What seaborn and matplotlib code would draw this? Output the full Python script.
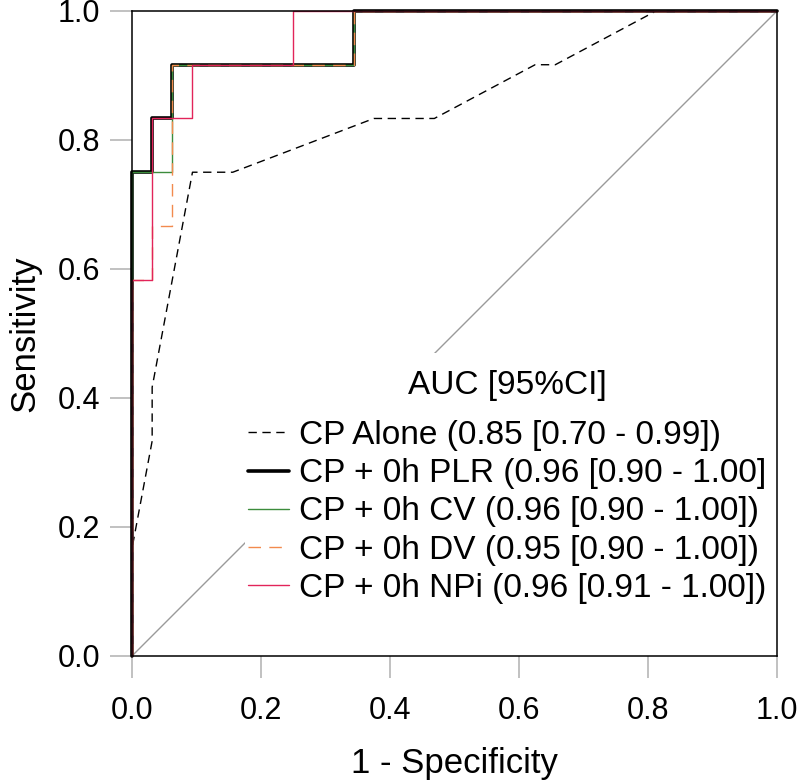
import matplotlib
matplotlib.use("Agg")
import matplotlib.pyplot as plt
from matplotlib.patches import Rectangle
import numpy as np
import pandas as pd
import seaborn as sns

# ROC curves (x = 1 - specificity, y = sensitivity)
cp_alone_fpr = [0, 0, 1/32, 1/32, 3/32, 5/32, 12/32, 15/32, 20/32, 21/32, 26/32, 1]
cp_alone_tpr = [0, 2/12, 4/12, 5/12, 9/12, 9/12, 10/12, 10/12, 11/12, 11/12, 1, 1]

plr_fpr = [0, 0, 1/32, 1/32, 2/32, 2/32, 11/32, 11/32, 1]
plr_tpr = [0, 9/12, 9/12, 10/12, 10/12, 11/12, 11/12, 1, 1]

cv_fpr = [0, 0, 2/32, 2/32, 11/32, 11/32, 1]
cv_tpr = [0, 9/12, 9/12, 11/12, 11/12, 1, 1]

dv_fpr = [0, 0, 1/32, 1/32, 2/32, 2/32, 11/32, 11/32, 1]
dv_tpr = [0, 7/12, 7/12, 8/12, 8/12, 11/12, 11/12, 1, 1]

npi_fpr = [0, 0, 1/32, 1/32, 3/32, 3/32, 8/32, 8/32, 1]
npi_tpr = [0, 7/12, 7/12, 10/12, 10/12, 11/12, 11/12, 1, 1]

labels = ["CP Alone (0.85 [0.70 - 0.99])",
          "CP + 0h PLR (0.96 [0.90 - 1.00]",
          "CP + 0h CV (0.96 [0.90 - 1.00])",
          "CP + 0h DV (0.95 [0.90 - 1.00])",
          "CP + 0h NPi (0.96 [0.91 - 1.00])"]
ticks = [0.0, 0.2, 0.4, 0.6, 0.8, 1.0]

sns.set_style("white")
plt.rcParams['font.family'] = ['Liberation Sans', 'DejaVu Sans']
plt.rcParams['text.color'] = 'black'
plt.rcParams['axes.labelcolor'] = 'black'

fig, ax = plt.subplots(figsize=(8, 7.84), dpi=100)
fig.subplots_adjust(left=0.165, right=0.97125, bottom=0.1633, top=0.986)

# chance line
ax.axline((0, 0), slope=1, color="#9a9a9a", lw=1.0, zorder=1)
# white area behind the legend (hides the chance line there)
ax.add_patch(Rectangle((0.175, 0.05), 0.82, 0.42, transform=ax.transAxes,
                       facecolor="white", edgecolor="none", zorder=1.5))

curves = [
    (cp_alone_fpr, cp_alone_tpr, dict(color="black", lw=1.0, linestyle=(0, (6, 4)))),
    (plr_fpr, plr_tpr, dict(color="black", lw=2.6, linestyle="-")),
    (cv_fpr, cv_tpr, dict(color="#3c8c3c", lw=1.0, linestyle="-")),
    (dv_fpr, dv_tpr, dict(color="#f28a4e", lw=1.0, linestyle=(0, (9, 6)))),
    (npi_fpr, npi_tpr, dict(color="#e2245a", lw=1.0, linestyle="-")),
]
for (fpr, tpr, style), lab in zip(curves, labels):
    df = pd.DataFrame({"fpr": fpr, "tpr": tpr})
    sns.lineplot(data=df, x="fpr", y="tpr", ax=ax, sort=False, estimator=None,
                 label=lab, clip_on=False, zorder=2, **style)

ax.set_xlim(0, 1)
ax.set_ylim(0, 1)
ax.set_xticks(ticks)
ax.set_yticks(ticks)
ax.set_xticklabels([f"{t:.1f}" for t in ticks])
ax.set_yticklabels([f"{t:.1f}" for t in ticks])
ax.tick_params(axis="both", direction="out", length=16, width=1.1, color="#b0b0b0",
               labelsize=22, labelcolor="black", left=True, bottom=True)
ax.tick_params(axis="x", pad=13)
ax.tick_params(axis="y", pad=7)
for sp in ax.spines.values():
    sp.set_color("black")
    sp.set_linewidth(1.1)

ax.set_xlabel("1 - Specificity", fontsize=25, labelpad=15)
ax.set_ylabel("Sensitivity", fontsize=25, labelpad=11.5)

leg = ax.legend(title="AUC [95%CI]", loc="upper left", bbox_to_anchor=(0.175, 0.448),
                borderaxespad=0, borderpad=0.1, fontsize=24, title_fontsize=24,
                frameon=False, handlelength=1.23, handletextpad=0.3,
                labelspacing=0.216)
leg.set_zorder(5)
for t in leg.get_texts():
    t.set_color("black")
leg.get_title().set_color("black")
# extra gap between the title and the entries
if hasattr(leg, "_legend_box"):
    leg._legend_box.sep = 13.5

fig.savefig("out.png", dpi=100)
